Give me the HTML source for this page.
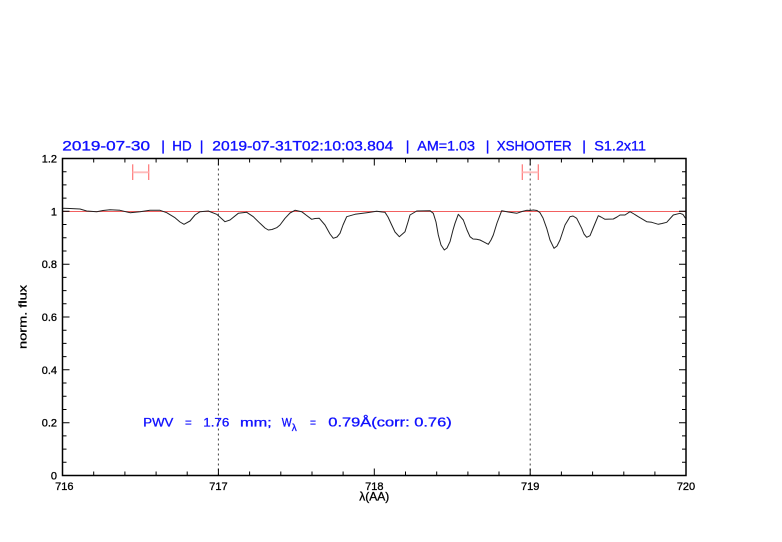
<!DOCTYPE html>
<html><head><meta charset="utf-8"><style>
html,body{margin:0;padding:0;background:#fff;}
svg{display:block;}
text{font-family:"Liberation Sans",sans-serif;}
</style></head><body>
<svg width="782" height="542" viewBox="0 0 782 542" xmlns="http://www.w3.org/2000/svg">
<rect width="782" height="542" fill="#fff"/>
<!-- title -->
<g fill="#1010ff" stroke="#1010ff" stroke-width="0.35" font-size="14">
<text x="62.3" y="150.3" textLength="87.7" lengthAdjust="spacingAndGlyphs">2019-07-30</text>
<text x="161.3" y="150.3">|</text>
<text x="172.3" y="150.3" textLength="19.4" lengthAdjust="spacingAndGlyphs">HD</text>
<text x="199.7" y="150.3">|</text>
<text x="212.3" y="150.3" textLength="181" lengthAdjust="spacingAndGlyphs">2019-07-31T02:10:03.804</text>
<text x="405.7" y="150.3">|</text>
<text x="417.3" y="150.3" textLength="57.7" lengthAdjust="spacingAndGlyphs">AM=1.03</text>
<text x="485.7" y="150.3">|</text>
<text x="496.7" y="150.3" textLength="75" lengthAdjust="spacingAndGlyphs">XSHOOTER</text>
<text x="582.3" y="150.3">|</text>
<text x="594.3" y="150.3" textLength="51.7" lengthAdjust="spacingAndGlyphs">S1.2x11</text>
</g>
<!-- dotted verticals -->
<line x1="218.4" y1="158.5" x2="218.4" y2="475.5" stroke="#444" stroke-width="1" stroke-dasharray="2,3"/>
<line x1="530.2" y1="158.5" x2="530.2" y2="475.5" stroke="#444" stroke-width="1" stroke-dasharray="2,3"/>
<!-- unity line -->
<line x1="62.5" y1="211.5" x2="686" y2="211.5" stroke="#f26060" stroke-width="1"/>
<!-- error bars -->
<g stroke="#f77" stroke-width="1.2">
<line x1="132.7" y1="164.3" x2="132.7" y2="180"/>
<line x1="148.7" y1="164.3" x2="148.7" y2="180"/>
<line x1="522.3" y1="164.3" x2="522.3" y2="180"/>
<line x1="538.3" y1="164.3" x2="538.3" y2="180"/>
</g>
<g stroke="#fbb" stroke-width="1.8">
<line x1="132.7" y1="172.3" x2="148.7" y2="172.3"/>
<line x1="522.3" y1="172.3" x2="538.3" y2="172.3"/>
</g>
<!-- spectrum -->
<polyline fill="none" stroke="#222" stroke-width="1" stroke-linejoin="round" points="
62.8,208.3 70,208.5 80,209 86.7,211 96.7,211.7 103,210.5 110,209.7 120,210.3 130,212.7 140,211.7 150,210.3 160,210.3 166.7,212.7 175,217.7 180,222 184,224.3 190,221 195,215 200,211.7 208.3,211 216.7,214.3 222,219 225,221.7 230,220 238.3,213.3 246.7,212.3 253.3,216.7 260,223.3 265,228 268.3,230 272,229.5 276.7,227.7 280,225 285,218.3 290,213 295,210.3 301.7,211.7 306,215 311.7,219.3 315,218.5 319.3,218.3 325,225 330,234 333.3,238.3 337,237 340,233.3 343,225 346.7,216.7 355,214.3 366.7,212.7 376.7,211.3 385,212.3 388,217 391.7,225 395,232 399.3,236.7 405,231.7 408,222 410,215 416.7,211 430,210.7 433.3,213.3 436,222 438.3,235 441,245 444.3,250 447,248 450,241.7 453,230 455,223.3 458.3,214.3 463.3,220 467,230 470,236.7 473,239 476.7,239.3 480,240 483.3,241.7 488.3,244.3 491,240 493.3,235 497,223 501.7,210.7 508.3,212 516.7,213.3 522,211.5 526.7,210.3 530,210.5 533.3,210 537,210.5 540,212.7 543,218 546.7,228.3 550,240 554,248.3 557,246 560,240 565,225 570,216.7 573,216 576.7,218.3 581.7,228.3 584,234 586.7,237.3 590,235.7 594,226 598.3,215.7 601,217 605,219.3 613.3,219 617,217 620,215 625,215 630,211.7 634,214 638.3,216.7 646.7,221.7 651.7,222.3 658.3,224.3 662,223.5 666.7,222.3 673.3,215 680,213.3 683,214.5 685.5,218.3"/>
<!-- frame -->
<rect x="62.5" y="158.5" width="623.5" height="317" fill="none" stroke="#000" stroke-width="1.5"/>
<!-- ticks -->
<g stroke="#000" stroke-width="1">
<path d="M62.5,475.5v-7M218.4,475.5v-7M374.3,475.5v-7M530.2,475.5v-7M686,475.5v-7
M62.5,158.5v7M218.4,158.5v7M374.3,158.5v7M530.2,158.5v7M686,158.5v7"/>
<path d="M93.7,475.5v-4M124.9,475.5v-4M156.1,475.5v-4M187.2,475.5v-4
M249.6,475.5v-4M280.8,475.5v-4M312,475.5v-4M343.1,475.5v-4
M405.5,475.5v-4M436.7,475.5v-4M467.9,475.5v-4M499,475.5v-4
M561.4,475.5v-4M592.6,475.5v-4M623.8,475.5v-4M654.9,475.5v-4
M93.7,158.5v4M124.9,158.5v4M156.1,158.5v4M187.2,158.5v4
M249.6,158.5v4M280.8,158.5v4M312,158.5v4M343.1,158.5v4
M405.5,158.5v4M436.7,158.5v4M467.9,158.5v4M499,158.5v4
M561.4,158.5v4M592.6,158.5v4M623.8,158.5v4M654.9,158.5v4"/>
<path d="M62.5,475.5h7M62.5,422.7h7M62.5,369.8h7M62.5,317h7M62.5,264.2h7M62.5,211.3h7M62.5,158.5h7
M686,475.5h-7M686,422.7h-7M686,369.8h-7M686,317h-7M686,264.2h-7M686,211.3h-7M686,158.5h-7"/>
<path d="M62.5,462.3h4M62.5,449.1h4M62.5,435.9h4M62.5,409.5h4M62.5,396.3h4M62.5,383h4M62.5,356.6h4M62.5,343.4h4M62.5,330.2h4M62.5,303.8h4M62.5,290.6h4M62.5,277.4h4M62.5,251h4M62.5,237.7h4M62.5,224.5h4M62.5,198.1h4M62.5,184.9h4M62.5,171.7h4
M686,462.3h-4M686,449.1h-4M686,435.9h-4M686,409.5h-4M686,396.3h-4M686,383h-4M686,356.6h-4M686,343.4h-4M686,330.2h-4M686,303.8h-4M686,290.6h-4M686,277.4h-4M686,251h-4M686,237.7h-4M686,224.5h-4M686,198.1h-4M686,184.9h-4M686,171.7h-4"/>
</g>
<!-- tick labels -->
<g fill="#000" stroke="#000" stroke-width="0.3" font-size="11">
<g text-anchor="middle">
<text x="64.3" y="490">716</text>
<text x="218.4" y="490">717</text>
<text x="374.3" y="490">718</text>
<text x="530.2" y="490">719</text>
<text x="686" y="490">720</text>
</g>
<g text-anchor="end">
<text x="57" y="479.5">0</text>
<text x="57" y="426.7">0.2</text>
<text x="57" y="373.8">0.4</text>
<text x="57" y="321">0.6</text>
<text x="57" y="268.2">0.8</text>
<text x="57" y="215.3">1</text>
<text x="57" y="162.5">1.2</text>
</g>
<text x="374.3" y="500.5" text-anchor="middle" font-size="12">λ(AA)</text>
<text transform="translate(26.5,317) rotate(-90)" text-anchor="middle" textLength="64" lengthAdjust="spacingAndGlyphs">norm. flux</text>
</g>
<!-- annotation -->
<g fill="#1010ff" stroke="#1010ff" stroke-width="0.3" font-size="12">
<text x="143.3" y="426.7" textLength="30" lengthAdjust="spacingAndGlyphs">PWV</text>
<text x="185" y="426.7" textLength="6.7" lengthAdjust="spacingAndGlyphs">=</text>
<text x="203.3" y="426.7" textLength="26" lengthAdjust="spacingAndGlyphs">1.76</text>
<text x="240" y="426.7" textLength="31.7" lengthAdjust="spacingAndGlyphs">mm;</text>
<text x="281.7" y="426.7" textLength="10" lengthAdjust="spacingAndGlyphs">W</text>
<text x="291.7" y="431" font-size="10">λ</text>
<text x="310" y="426.7" textLength="6" lengthAdjust="spacingAndGlyphs">=</text>
<text x="328.3" y="426.7" font-size="13" textLength="123.4" lengthAdjust="spacingAndGlyphs">0.79Å(corr: 0.76)</text>
</g>
</svg>
</body></html>
